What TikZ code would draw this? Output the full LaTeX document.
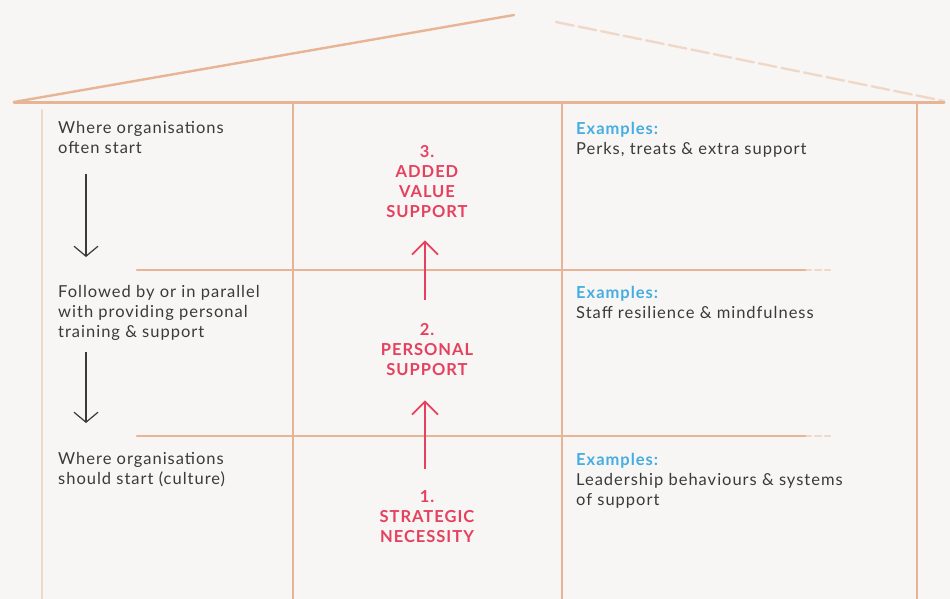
\documentclass[tikz,border=0pt]{standalone}
\usepackage{fontspec}
\setmainfont{Lato}
\usetikzlibrary{positioning,arrows.meta}

\definecolor{paper}{HTML}{F7F6F4}
\definecolor{walltone}{HTML}{E8B496}
\definecolor{ink}{HTML}{3A3A3A}
\definecolor{rose}{HTML}{E5415F}
\definecolor{sky}{HTML}{45ADE2}

\tikzset{
  wall/.style={draw=walltone, line width=2.4pt, line cap=round},
  faded/.style={wall, draw opacity=0.45},
  note/.style={anchor=north west, align=left, inner sep=0pt, text=ink,
               font=\fontsize{16.5}{20}\selectfont\addfontfeatures{LetterSpace=6}},
  level/.style={align=center, inner sep=0pt, text=rose,
                font=\fontsize{16.5}{20}\selectfont\bfseries\addfontfeatures{LetterSpace=6}},
  fall/.style={draw=ink, line width=1.2pt,
               -{Straight Barb[length=10pt, width=24pt, line width=1.2pt]}},
  climb/.style={draw=rose, line width=1.8pt,
                -{Straight Barb[length=13pt, width=26pt, line width=1.8pt]}}
}

\begin{document}
\begin{tikzpicture}[x=1pt, y=-1pt]
    % Paper
    \fill[paper] (0,0) rectangle (950,599);
    \useasboundingbox (0,0) rectangle (950,599);

    % Roof
    \draw[wall] (14,102) -- (514,15);
    \draw[faded, dash pattern=on 18pt off 5pt] (556,22) -- (944,101);
    \draw[wall, line width=3pt] (14,103) -- (944,103);

    % Walls and columns
    \draw[faded, line width=1.6pt] (42,110) -- (42,599);
    \draw[wall] (293,104) -- (293,599);
    \draw[wall] (562,104) -- (562,599);
    \draw[wall] (917,104) -- (917,599);

    % Floors
    \foreach \y in {270,436} {
        \draw[wall] (137,\y) -- (805,\y);
        \draw[faded, dash pattern=on 6pt off 4pt] (805,\y) -- (830,\y);
    }

    % Left column: how organisations go about it
    \node[note] (start) at (58,121) {Where organisations\\often start};
    \node[note] (follow) at (58,285) {Followed by or in parallel\\with providing personal\\training \& support};
    \node[note] (culture) at (58,452) {Where organisations\\should start (culture)};

    \draw[fall, shorten <=20pt, shorten >=28pt]
        ([xshift=28pt]start.south west) -- ([xshift=28pt]start.south west |- follow.north);
    \draw[fall, shorten <=11pt, shorten >=29pt]
        ([xshift=28pt]follow.south west) -- ([xshift=28pt]follow.south west |- culture.north);

    % Middle column: the three levels
    \node[level] (added) at (427,182) {3.\\ADDED\\VALUE\\SUPPORT};
    \node[level] (personal) at (427,350) {2.\\PERSONAL\\SUPPORT};
    \node[level] (strategic) at (427,517) {1.\\STRATEGIC\\NECESSITY};

    \draw[climb, shorten <=24pt, shorten >=22pt] ([xshift=-2pt]personal.north) -- ([xshift=-2pt]added.south);
    \draw[climb, shorten <=22pt, shorten >=24pt] ([xshift=-2pt]strategic.north) -- ([xshift=-2pt]personal.south);

    % Right column: examples
    \node[note] (perks) at (576,122) {\textcolor{sky}{\bfseries Examples:}\\Perks, treats \& extra support};
    \node[note] (staff) at (576,286) {\textcolor{sky}{\bfseries Examples:}\\Staff resilience \& mindfulness};
    \node[note] (leaders) at (576,453) {\textcolor{sky}{\bfseries Examples:}\\Leadership behaviours \& systems\\of support};
\end{tikzpicture}
\end{document}
